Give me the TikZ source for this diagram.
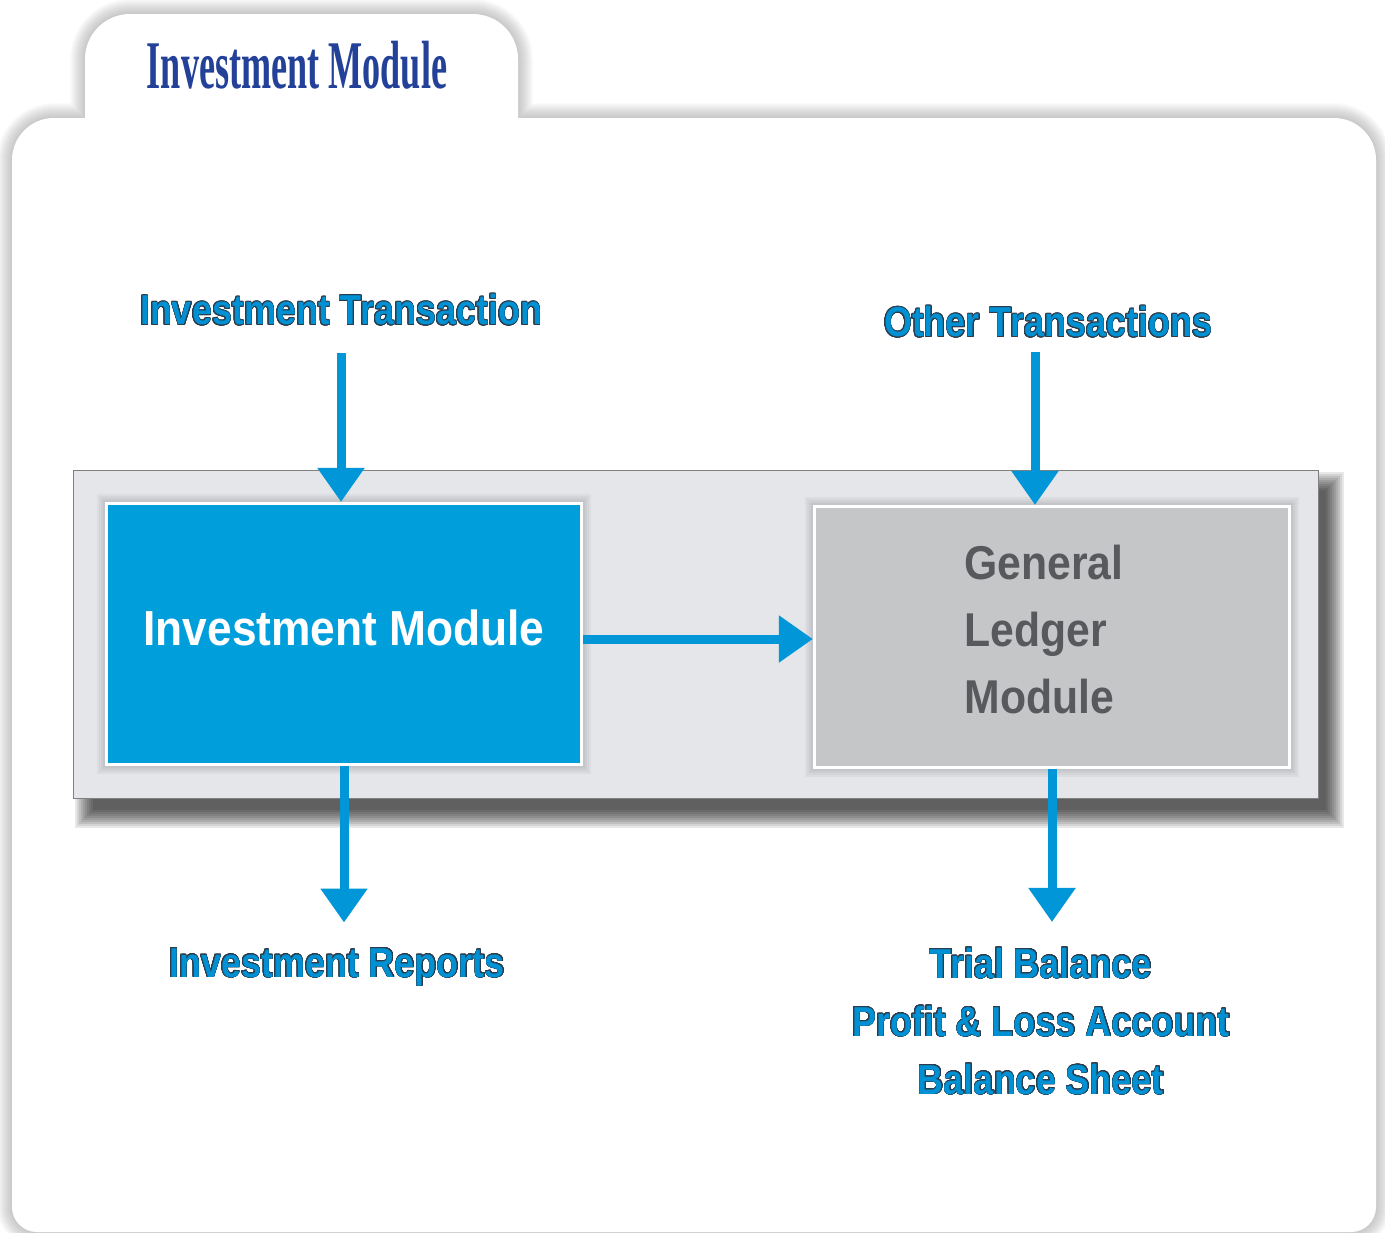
\documentclass[tikz,border=0pt]{standalone}
\usepackage{fontspec}
\usepackage{contour}
\usepackage{tikz}
\usetikzlibrary{arrows.meta, positioning}
\setmainfont{Liberation Sans}
\newfontfamily\labelfont[FakeStretch=0.86]{Liberation Sans}
\newfontfamily\boxfont[FakeStretch=0.9]{Liberation Sans}
\newfontfamily\tabfont[FakeStretch=0.53]{Liberation Serif}
\definecolor{arrowblue}{RGB}{0,150,215}
\definecolor{invblue}{RGB}{0,158,219}
\definecolor{ledgergray}{RGB}{197,198,200}
\definecolor{ledgertext}{RGB}{88,89,92}
\definecolor{panelgray}{RGB}{228,230,233}
\definecolor{titleblue}{RGB}{35,65,152}
\definecolor{labelblue}{RGB}{0,145,212}
\definecolor{labeledge}{RGB}{45,60,75}
\contourlength{0.2pt}
\contournumber{24}
\newcommand{\lbl}[1]{\contour{labeledge}{#1}}
\newcommand{\framepath}{(12,1207) -- (12,160) arc[start angle=180, end angle=270, radius=42]
    -- (85,118) -- (85,59) arc[start angle=180, end angle=270, radius=45]
    -- (473,14) arc[start angle=270, end angle=360, radius=45]
    -- (518,118) -- (1334,118) arc[start angle=270, end angle=360, radius=42]
    -- (1376,1207) arc[start angle=0, end angle=90, radius=25]
    -- (37,1232) arc[start angle=90, end angle=180, radius=25] -- cycle}

\begin{document}
\begin{tikzpicture}[x=0.01cm, y=-0.01cm,
    flow/.style={draw=arrowblue, line width=0.09cm, -{Triangle[length=0.34cm, width=0.45cm]}},
    tag/.style={inner sep=0pt, text=labelblue, align=center,
        font=\labelfont\bfseries\fontsize{11.9}{16.5}\selectfont},
    tabtitle/.style={inner sep=0pt, text=titleblue, font=\tabfont\bfseries\fontsize{19.4}{22}\selectfont},
    halo/.style={preaction={draw=black, opacity=0.035, line width=#1}},
    module/.style={draw=white, line width=0.03cm, minimum width=4.75cm, minimum height=2.61cm,
        halo=0.18cm, halo=0.14cm, halo=0.1cm, halo=0.06cm}]
    \useasboundingbox (0,0) rectangle (1385,1232);

    % Folder frame with soft shadow
    \foreach \w in {2,4,...,30} {
        \draw[black, opacity=0.014, line width=\w*0.01cm] \framepath;
    }
    \fill[white] \framepath;

    % Grey panel with drop shadow
    \foreach \k in {0,...,9} {
        \fill[black, opacity=0.09] (93-\k*2,490-\k*2) rectangle (1326+\k*2,810+\k*2);
    }
    \draw[draw=black!50, fill=panelgray, line width=0.01cm] (73,470) rectangle (1318,798);

    % Tab title
    \node[tabtitle] (title) at (297,65) {Investment Module};

    % Modules
    \node[module, fill=invblue, text=white, text depth=0.12cm,
        font=\boxfont\bfseries\fontsize{14}{17}\selectfont]
        (inv) at (344,634) {Investment Module};
    \node[module, fill=ledgergray, text=ledgertext, align=left, text depth=0.16cm,
        font=\boxfont\bfseries\fontsize{13.5}{19}\selectfont]
        (glm) at (1052,637) {General\hbox to 0.16cm{}\\Ledger\\Module};

    % Inputs and outputs
    \node[tag] (itx) at (341,310) {\lbl{Investment Transaction}};
    \node[tag] (oth) at (1048,322) {\lbl{Other Transactions}};
    \node[tag, anchor=base] (rep) at (337,977) {\lbl{Investment Reports}};
    \node[tag, anchor=north] (fin) at (1041,947)
        {\lbl{Trial Balance}\\\lbl{Profit \& Loss Account}\\\lbl{Balance Sheet}};

    % Flows
    \draw[flow, shorten <=0.27cm] (itx.south) -- (itx.south |- inv.north);
    \draw[flow, shorten <=0.14cm] ([xshift=-0.13cm]oth.south) -- ([xshift=-0.13cm]oth.south |- glm.north);
    \draw[flow] ([yshift=-0.05cm]inv.east) -- ([yshift=-0.05cm]inv.east -| glm.west);
    \draw[flow, shorten >=0.25cm] (inv.south) -- (inv.south |- rep.north);
    \draw[flow, shorten >=0.25cm] (glm.south) -- (glm.south |- fin.north);
\end{tikzpicture}
\end{document}
